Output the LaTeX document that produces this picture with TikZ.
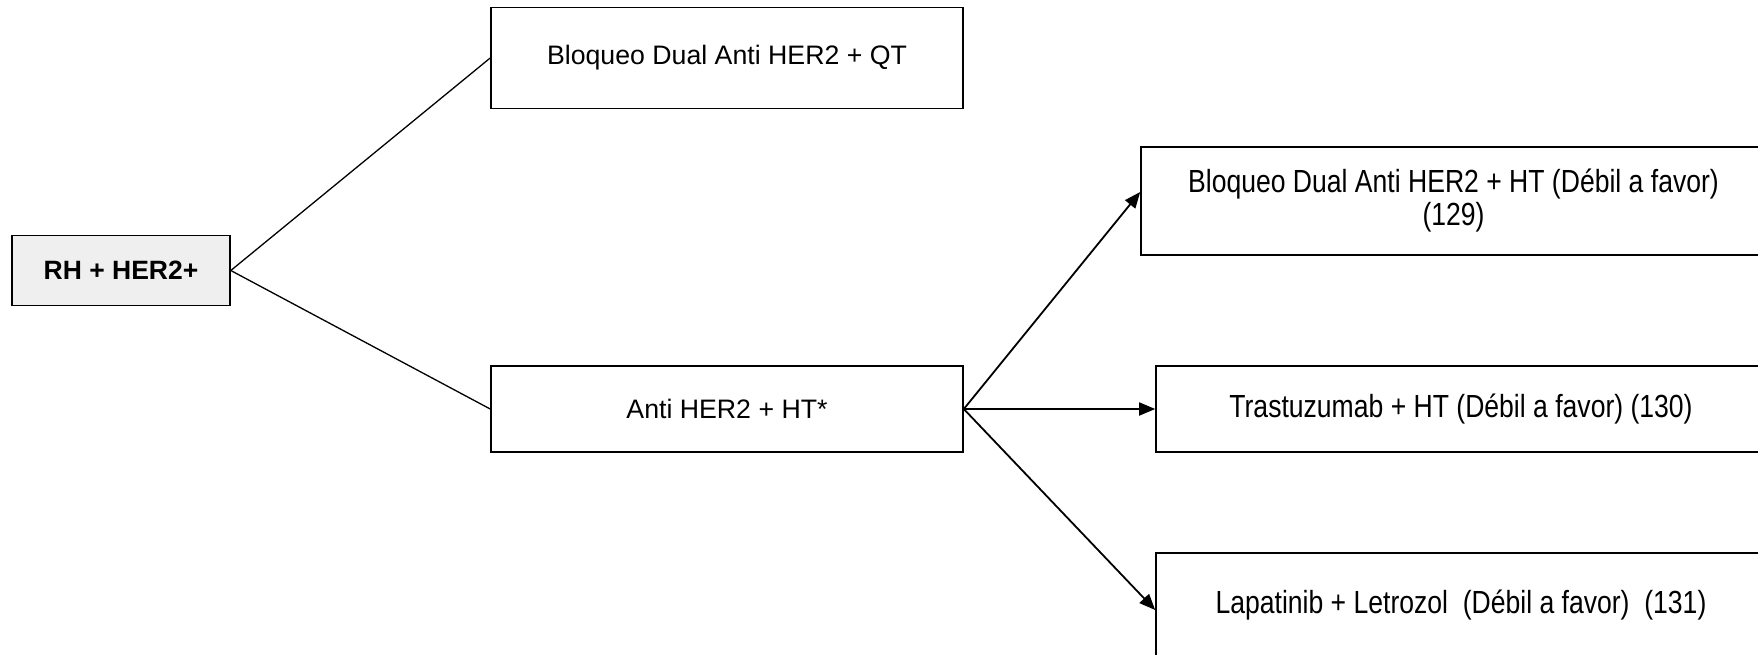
\documentclass[tikz,border=0pt]{standalone}
\usepackage{fontspec}
\setmainfont{Liberation Sans}
\newfontfamily\narrowfont[FakeStretch=0.83]{Liberation Sans}
\usetikzlibrary{arrows.meta}
\definecolor{boxgray}{HTML}{EFEFEF}
\begin{document}
\begin{tikzpicture}[x=1pt,y=-1pt,
  plainbox/.style={draw=black,line width=1.6pt,fill=white,inner sep=0pt,align=center,
    font=\fontsize{26.7}{32}\selectfont},
  narrowbox/.style={draw=black,line width=1.6pt,fill=white,inner sep=0pt,align=center,
    font=\narrowfont\fontsize{32}{33}\selectfont},
  rootbox/.style={plainbox,fill=boxgray,font=\bfseries\fontsize{26.5}{32}\selectfont},
  link/.style={line width=1.3pt},
  arrowlink/.style={line width=1.8pt,-{Triangle[length=16pt,width=13pt]}}]
\useasboundingbox (0,0) rectangle (1758,654);
\clip (0,0) rectangle (1758,654);
\fill[white] (0,0) rectangle (1758,654);
\node[rootbox,minimum width=218pt,minimum height=70pt] (rh) at (121,270.5) {RH + HER2+};
\node[plainbox,minimum width=472pt,minimum height=101pt] (qt) at (727,58) {Bloqueo Dual Anti HER2 + QT};
\node[plainbox,minimum width=472pt,minimum height=86pt] (anti) at (727,409) {Anti HER2 + HT*};
\node[narrowbox,minimum width=625pt,minimum height=108pt] (b129) at (1453.5,201) {Bloqueo Dual Anti HER2 + HT (Débil a favor)\\(129)};
\node[narrowbox,minimum width=610pt,minimum height=86pt] (b130) at (1461,409) {Trastuzumab + HT (Débil a favor) (130)};
\node[narrowbox,minimum width=610pt,minimum height=104pt] (b131) at (1461,605) {Lapatinib + Letrozol\ \ (Débil a favor)\ \ (131)};
\draw[link] (rh.east) -- (qt.west);
\draw[link] (rh.east) -- (anti.west);
\draw[arrowlink] (anti.east) -- ([yshift=9pt]b129.west);
\draw[arrowlink] (anti.east) -- (b130.west);
\draw[arrowlink] (anti.east) -- ([yshift=-5pt]b131.west);
\end{tikzpicture}
\end{document}
